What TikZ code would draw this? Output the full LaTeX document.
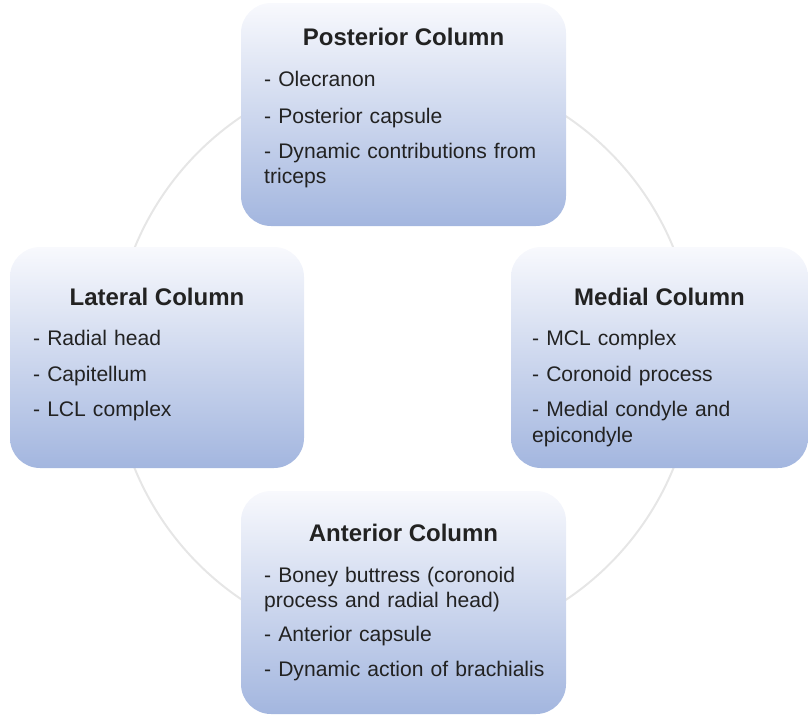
\documentclass[tikz,border=0pt]{standalone}
\usepackage{fontspec}
\setmainfont{Liberation Sans}
\usetikzlibrary{positioning}
\definecolor{boxtop}{HTML}{F8F9FD}
\definecolor{boxbot}{HTML}{A3B6DF}
\definecolor{ringgray}{HTML}{E6E6E6}
\definecolor{inkgray}{HTML}{222222}
\begin{document}
\begin{tikzpicture}[x=1pt,y=-1pt,
  col node/.style={rectangle, rounded corners=30pt, top color=boxtop, bottom color=boxbot, draw=none, inner sep=0pt},
  title node/.style={anchor=base, inner sep=0pt, text=inkgray, font=\fontsize{24}{28}\selectfont\bfseries},
  list node/.style={anchor=base west, inner sep=0pt, text width=285pt, align=left, text=inkgray, font=\fontsize{21.1}{25.5}\selectfont}]
  \useasboundingbox (0,0) rectangle (808,715);
  \coordinate (mid) at (404,358);
  \draw[ringgray, line width=2pt] (mid) circle[radius=291];
  % the four columns
  \node[col node, minimum width=325pt, minimum height=223pt] (post) at (403.5,114.5) {};
  \node[col node, minimum width=294pt, minimum height=221pt] (lat) at (157,357.5) {};
  \node[col node, minimum width=297pt, minimum height=221pt] (med) at (659.5,357.5) {};
  \node[col node, minimum width=325pt, minimum height=223pt] (ant) at (403.5,602.5) {};
  % titles
  \node[title node] (posttitle) at (403.5,45) {Posterior Column};
  \node[title node] (lattitle) at (157,305) {Lateral Column};
  \node[title node] (medtitle) at (659.5,305) {Medial Column};
  \node[title node] (anttitle) at (403.5,541.7) {Anterior Column};
  % lists
  \node[list node] (postlist) at (264,86.5) {- Olecranon\\[11pt]
    - Posterior capsule\\[9.5pt]
    - Dynamic contributions from\\ triceps};
  \node[list node] (latlist) at (33,345) {- Radial head\\[11pt]
    - Capitellum\\[9.5pt]
    - LCL complex};
  \node[list node] (medlist) at (532,345) {- MCL complex\\[11pt]
    - Coronoid process\\[9.5pt]
    - Medial condyle and\\ epicondyle};
  \node[list node] (antlist) at (264,582) {- Boney buttress (coronoid\\ process and radial head)\\[8.5pt]
    - Anterior capsule\\[9pt]
    - Dynamic action of brachialis};
\end{tikzpicture}
\end{document}
